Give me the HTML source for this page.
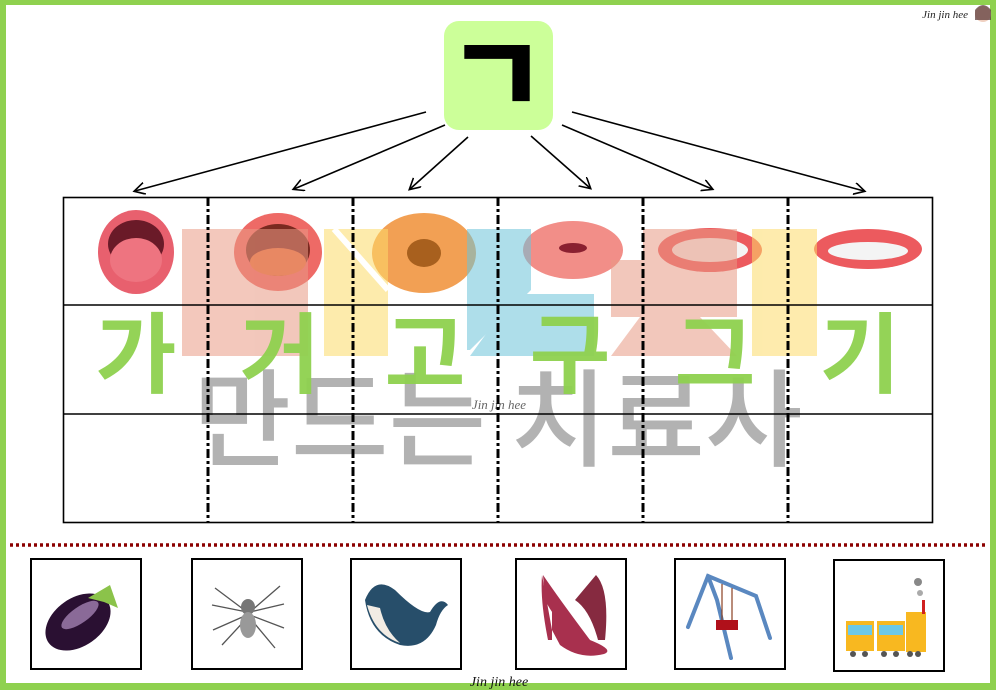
<!DOCTYPE html>
<html><head><meta charset="utf-8"><style>
html,body{margin:0;padding:0;background:#fff}
body{width:996px;height:690px;overflow:hidden;position:relative}
svg{position:absolute;left:0;top:0}
</style></head><body>
<svg width="996" height="690" viewBox="0 0 996 690" xmlns="http://www.w3.org/2000/svg">
<defs>
<marker id="ah" markerWidth="14" markerHeight="14" refX="10" refY="6" orient="auto" markerUnits="userSpaceOnUse">
<path d="M0,0 L11,6 L0,12" fill="none" stroke="#000" stroke-width="1.6"/>
</marker>
</defs>
<rect x="0" y="0" width="996" height="690" fill="#8fd14f"/>
<rect x="6" y="5" width="984" height="678" fill="#fff"/>

<!-- title box -->
<rect x="444" y="21" width="109" height="109" rx="15" fill="#ccff99"/>
<text x="497" y="115" font-family="'Noto Sans CJK KR',sans-serif" font-weight="900" font-size="109" text-anchor="middle" fill="#000">ㄱ</text>

<!-- arrows -->
<g stroke="#000" stroke-width="1.6" marker-end="url(#ah)">
<line x1="426" y1="112" x2="135" y2="191"/>
<line x1="445" y1="125" x2="294" y2="189"/>
<line x1="468" y1="137" x2="410" y2="189"/>
<line x1="531" y1="136" x2="590" y2="188"/>
<line x1="562" y1="125" x2="712" y2="189"/>
<line x1="572" y1="112" x2="864" y2="191"/>
</g>

<!-- mouths -->
<g>
<ellipse cx="136" cy="252" rx="38" ry="42" fill="#e8606e"/><ellipse cx="136" cy="244" rx="28" ry="24" fill="#6a1a28"/><ellipse cx="136" cy="260" rx="26" ry="22" fill="#ee7480"/>
<ellipse cx="278" cy="252" rx="44" ry="39" fill="#ee6a66"/><ellipse cx="278" cy="250" rx="32" ry="26" fill="#7a2a20"/><ellipse cx="278" cy="262" rx="28" ry="14" fill="#e8743a"/>
<ellipse cx="424" cy="253" rx="52" ry="40" fill="#f2a054"/><ellipse cx="424" cy="253" rx="17" ry="14" fill="#a8601e"/>
<ellipse cx="573" cy="250" rx="50" ry="29" fill="#f28e88"/><ellipse cx="573" cy="248" rx="14" ry="5" fill="#8a2030"/>
<ellipse cx="710" cy="250" rx="52" ry="22" fill="#ec5a5e"/><ellipse cx="710" cy="250" rx="38" ry="12" fill="#f4f4f4"/>
<ellipse cx="868" cy="249" rx="54" ry="20" fill="#ec5a5e"/><ellipse cx="868" cy="251" rx="40" ry="9" fill="#f4f4f4"/>
</g>

<!-- watermark shapes -->
<g opacity="0.55">
<rect x="182" y="229" width="126" height="127" fill="#e99a85"/>
<polygon points="324,229 388,229 388,356 324,356" fill="#fddb6a"/>
<polygon points="467,229 531,229 531,290 470,350 467,350" fill="#6cc4da"/>
<polygon points="515,294 594,294 594,356 470,356" fill="#6cc4da"/>
<polygon points="643,229 737,229 737,317 700,317 737,356 611,356 640,317 611,317 611,260 643,260" fill="#e99a85"/>
<rect x="752" y="229" width="65" height="127" fill="#fddb6a"/>
</g>
<line x1="334" y1="229" x2="388" y2="290" stroke="#fff" stroke-width="6"/>

<!-- grey watermark text -->
<text x="498" y="458" font-family="'Noto Sans CJK KR',sans-serif" font-weight="500" font-size="106" fill="#999" opacity="0.75" text-anchor="middle">만드는 치료사</text>

<!-- green syllables -->
<g font-family="'Noto Sans CJK KR',sans-serif" font-weight="700" font-size="88" fill="#8fd14f" text-anchor="middle" opacity="0.95">
<text x="136" y="386">가</text><text x="280" y="386">거</text><text x="425" y="386">고</text><text x="570" y="386">구</text><text x="715" y="386">그</text><text x="860" y="386">기</text>
</g>
<text x="499" y="409" font-family="'Liberation Serif',serif" font-style="italic" font-size="13" fill="#666" text-anchor="middle">Jin jin hee</text>

<!-- table -->
<g stroke="#000" fill="none">
<rect x="63.5" y="197.5" width="869" height="325" stroke-width="1.6"/>
<line x1="63" y1="305" x2="933" y2="305" stroke-width="1.6"/>
<line x1="63" y1="414" x2="933" y2="414" stroke-width="1.6"/>
<g stroke-width="3" stroke-dasharray="9,3,3,3">
<line x1="208" y1="197" x2="208" y2="523"/><line x1="353" y1="197" x2="353" y2="523"/><line x1="498" y1="197" x2="498" y2="523"/><line x1="643" y1="197" x2="643" y2="523"/><line x1="788" y1="197" x2="788" y2="523"/>
</g>
</g>

<!-- dotted separator -->
<line x1="10" y1="545" x2="988" y2="545" stroke="#8b0000" stroke-width="3.5" stroke-dasharray="3,3"/>

<!-- picture boxes -->
<g fill="#fff" stroke="#000" stroke-width="2">
<rect x="31" y="559" width="110" height="110"/><rect x="192" y="559" width="110" height="110"/><rect x="351" y="559" width="110" height="110"/><rect x="516" y="559" width="110" height="110"/><rect x="675" y="559" width="110" height="110"/><rect x="834" y="560" width="110" height="111"/>
</g>
<!-- eggplant -->
<ellipse cx="78" cy="622" rx="36" ry="24" transform="rotate(-35 78 622)" fill="#2a1032"/>
<ellipse cx="80" cy="615" rx="22" ry="8" transform="rotate(-35 80 615)" fill="#8a6a98"/>
<path d="M88,598 L110,585 L118,608 L104,602 Z" fill="#8bc34a"/>
<!-- spider -->
<g stroke="#555" stroke-width="1.3" fill="none">
<path d="M247,612 L215,588 M247,612 L212,605 M247,615 L213,630 M247,618 L222,645 M250,612 L280,586 M250,612 L284,604 M250,615 L284,628 M250,618 L275,648"/>
</g>
<ellipse cx="248" cy="607" rx="7" ry="8" fill="#777"/><ellipse cx="248" cy="625" rx="8" ry="13" fill="#999"/>
<!-- whale -->
<path d="M365,600 Q375,575 395,590 Q420,615 430,612 Q440,595 448,605 Q440,610 436,625 Q425,650 400,645 Q370,635 365,600 Z" fill="#274e6a"/>
<path d="M367,605 Q375,635 400,643 Q385,630 380,608 Z" fill="#f2ece4"/>
<!-- shoes -->
<path d="M596,575 Q610,590 605,640 L598,640 Q590,610 575,600 Z" fill="#862a40"/>
<path d="M542,575 Q540,600 548,640 L552,640 L552,610 Q570,625 590,640 Q615,650 604,654 Q580,660 560,645 L552,630 Z" fill="#a8304e"/>
<path d="M543,575 Q560,600 590,640 L580,645 Q555,620 545,600 Z" fill="#a8304e"/>
<!-- swing -->
<g stroke="#5a88c0" stroke-width="4" fill="none" stroke-linecap="round">
<path d="M688,627 L708,576 L756,596 L770,638 M708,576 L717,600 L731,658"/>
</g>
<g stroke="#8a4020" stroke-width="1.2"><line x1="722" y1="584" x2="722" y2="622"/><line x1="732" y1="588" x2="732" y2="626"/></g>
<rect x="716" y="620" width="22" height="10" fill="#b0101a"/>
<!-- train -->
<rect x="846" y="621" width="28" height="30" fill="#f8b820"/><rect x="848" y="625" width="24" height="10" fill="#6cc8e8"/>
<rect x="877" y="621" width="28" height="30" fill="#f8b820"/><rect x="879" y="625" width="24" height="10" fill="#6cc8e8"/>
<rect x="906" y="612" width="20" height="40" fill="#f8b820"/><rect x="922" y="600" width="3" height="14" fill="#d02020"/>
<circle cx="918" cy="582" r="4" fill="#888"/><circle cx="920" cy="593" r="3" fill="#aaa"/>
<g fill="#555"><circle cx="853" cy="654" r="3"/><circle cx="865" cy="654" r="3"/><circle cx="884" cy="654" r="3"/><circle cx="896" cy="654" r="3"/><circle cx="910" cy="654" r="3"/><circle cx="918" cy="654" r="3"/></g>

<!-- signatures -->
<text x="968" y="18" font-family="'Liberation Serif',serif" font-style="italic" font-size="11" fill="#222" text-anchor="end">Jin jin hee</text>
<circle cx="983" cy="14" r="8" fill="#f0d0c0"/><path d="M975,10 Q983,0 991,10 L991,20 L975,20 Z" fill="#553333" opacity="0.7"/>
<text x="499" y="686" font-family="'Liberation Serif',serif" font-style="italic" font-size="14" fill="#111" text-anchor="middle">Jin jin hee</text>
</svg>
</body></html>
